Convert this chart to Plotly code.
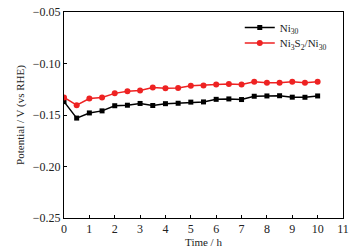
import plotly.graph_objects as go

time_h = [0, 0.5, 1, 1.5, 2, 2.5, 3, 3.5, 4, 4.5, 5, 5.5, 6, 6.5, 7, 7.5, 8, 8.5, 9, 9.5, 10]
ni30 = [-0.137, -0.153, -0.148, -0.146, -0.141, -0.1405, -0.1388, -0.1408, -0.139, -0.1386,
        -0.1375, -0.1373, -0.1348, -0.1344, -0.135, -0.1318, -0.1315, -0.1313, -0.1327, -0.1328, -0.1315]
ni3s2_ni30 = [-0.133, -0.1405, -0.134, -0.133, -0.129, -0.127, -0.1262, -0.1232, -0.124, -0.1237,
              -0.1217, -0.1214, -0.1204, -0.1198, -0.1204, -0.1177, -0.1186, -0.1187, -0.1177, -0.1186, -0.1177]
names = ["Ni<sub>30</sub>", "Ni<sub>3</sub>S<sub>2</sub>/Ni<sub>30</sub>"]

font = "Liberation Serif, Times New Roman, serif"
txt = "#222222"

fig = go.Figure()
fig.add_trace(go.Scatter(x=time_h, y=ni30, name=names[0], mode="lines+markers",
                         line=dict(color="black", width=1.5),
                         marker=dict(symbol="square", size=5, color="black"),
                         legend="legend"))
fig.add_trace(go.Scatter(x=time_h, y=ni3s2_ni30, name=names[1], mode="lines+markers",
                         line=dict(color="#ee2222", width=1.5),
                         marker=dict(symbol="circle", size=6, color="#ee2222"),
                         legend="legend2"))

axis_common = dict(showline=True, linecolor="black", linewidth=1, mirror=True,
                   ticks="inside", ticklen=3, tickcolor="black", showgrid=False,
                   zeroline=False,
                   tickfont=dict(family=font, size=12, color=txt))

leg_common = dict(xanchor="left", yanchor="middle", bgcolor="rgba(0,0,0,0)",
                  font=dict(family=font, size=11, color=txt), itemwidth=30)

fig.update_layout(
    width=361, height=251,
    margin=dict(l=64, r=18, t=12, b=33, autoexpand=False),
    paper_bgcolor="white", plot_bgcolor="white",
    font=dict(family=font, size=11, color=txt),
    xaxis=dict(range=[0, 11], dtick=1, tick0=0, automargin=False,
               title=dict(text="Time / h", font=dict(family=font, size=11, color=txt), standoff=2),
               **axis_common),
    yaxis=dict(range=[-0.25, -0.05], dtick=0.05, tickformat=".2f", automargin=True,
               title=dict(text="Potential / V (vs RHE)", font=dict(family=font, size=11, color=txt), standoff=5),
               **axis_common),
    legend=dict(x=0.63, y=0.925, **leg_common),
    legend2=dict(x=0.63, y=0.85, **leg_common),
    showlegend=True,
)

fig.write_html("out.html", config={"displayModeBar": False},
               post_script="document.body.style.margin='0';document.body.style.padding='0';")
